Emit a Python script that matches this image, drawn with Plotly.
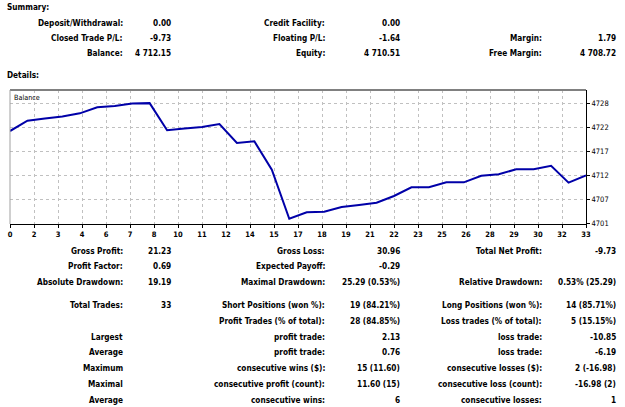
import plotly.graph_objects as go

# ---- data ----
trades = list(range(0, 34))
balance = [4721.88, 4724.13, 4724.62, 4725.05, 4725.75, 4727.09, 4727.35, 4727.90,
           4727.98, 4722.04, 4722.43, 4722.76, 4723.41, 4719.26, 4719.63, 4713.42,
           4702.69, 4704.10, 4704.23, 4705.26, 4705.70, 4706.20, 4707.67, 4709.57,
           4709.57, 4710.66, 4710.66, 4712.11, 4712.41, 4713.51, 4713.51, 4714.29,
           4710.58, 4712.15]
x_tick_labels = ["0", "2", "3", "4", "6", "7", "8", "10", "11", "12", "14", "15", "17",
                 "18", "19", "21", "22", "23", "25", "26", "28", "29", "30", "32", "33"]
y_tick_labels = ["4701", "4707", "4712", "4717", "4722", "4728"]

summary_rows = [
    ["Deposit/Withdrawal:", "0.00", "Credit Facility:", "0.00", "", ""],
    ["Closed Trade P/L:", "-9.73", "Floating P/L:", "-1.64", "Margin:", "1.79"],
    ["Balance:", "4 712.15", "Equity:", "4 710.51", "Free Margin:", "4 708.72"],
]
details_rows = [
    ["Gross Profit:", "21.23", "Gross Loss:", "30.96", "Total Net Profit:", "-9.73"],
    ["Profit Factor:", "0.69", "Expected Payoff:", "-0.29", "", ""],
    ["Absolute Drawdown:", "19.19", "Maximal Drawdown:", "25.29 (0.53%)", "Relative Drawdown:", "0.53% (25.29)"],
    ["Total Trades:", "33", "Short Positions (won %):", "19 (84.21%)", "Long Positions (won %):", "14 (85.71%)"],
    ["", "", "Profit Trades (% of total):", "28 (84.85%)", "Loss trades (% of total):", "5 (15.15%)"],
    ["Largest", "", "profit trade:", "2.13", "loss trade:", "-10.85"],
    ["Average", "", "profit trade:", "0.76", "loss trade:", "-6.19"],
    ["Maximum", "", "consecutive wins ($):", "15 (11.60)", "consecutive losses ($):", "2 (-16.98)"],
    ["Maximal", "", "consecutive profit (count):", "11.60 (15)", "consecutive loss (count):", "-16.98 (2)"],
    ["Average", "", "consecutive wins:", "6", "consecutive losses:", "1"],
]

# ---- layout geometry (pixels) ----
W, H = 625, 407
PL, PR, PT, PB = 8, 586, 90, 224
FONT = "DejaVu Sans Condensed, DejaVu Sans, Liberation Sans, sans-serif"
FS = 8.2

def xp(px):
    return (px - PL) / (PR - PL)

def yp(py):
    return (PB - py) / (PB - PT)

fig = go.Figure()
fig.add_trace(go.Scatter(x=trades, y=balance, mode="lines",
                         line=dict(color="#0000A8", width=2), hoverinfo="skip"))

n_int = len(x_tick_labels) - 1
x_tickvals = [i * (trades[-1] - trades[0]) / n_int for i in range(n_int + 1)]
y0, ystep = 4701.65, 5.25
y_tickvals = [y0 + i * ystep for i in range(len(y_tick_labels))]

annotations = []
def txt(px, py, s, anchor="right", bold=True, size=FS):
    if s == "":
        return
    annotations.append(dict(
        x=xp(px), y=yp(py), xref="paper", yref="paper", text=("<b>%s</b>" % s) if bold else s,
        showarrow=False, xanchor=anchor, yanchor="middle",
        font=dict(family=FONT, size=size, color="#000000")))

txt(3, 7, "Summary:", anchor="left")
txt(3, 75, "Details:", anchor="left")

col_right = [123, 172, 326, 401.5, 544, 618.5]
sum_y = [22.7, 38.3, 53.3]
for row, py in zip(summary_rows, sum_y):
    for s, px in zip(row, col_right):
        txt(px, py, s)

det_y = [250.7, 266.3, 282, 305.3, 321, 336.7, 352.3, 368, 384, 399.7]
for row, py in zip(details_rows, det_y):
    for s, px in zip(row, col_right):
        txt(px, py, s)

txt(10, 97.5, "Balance", anchor="left", bold=False, size=7.2)

shapes = [
    dict(type="line", xref="paper", yref="paper", x0=0, x1=1, y0=1, y1=1,
         line=dict(color="#808080", width=2)),
    dict(type="line", xref="paper", yref="paper", x0=0, x1=0, y0=0, y1=1,
         line=dict(color="#a0a0a0", width=1)),
]

fig.update_layout(
    width=W, height=H,
    margin=dict(l=PL, r=W - PR, t=PT, b=H - PB, pad=0),
    paper_bgcolor="white", plot_bgcolor="white",
    showlegend=False,
    annotations=annotations,
    shapes=shapes,
    xaxis=dict(range=[trades[0], trades[-1]], tickvals=x_tickvals, ticktext=x_tick_labels,
               showgrid=True, gridcolor="#c0c0c0", griddash="3px,3px", gridwidth=1,
               zeroline=False, showline=True, linecolor="#000000", linewidth=1,
               ticks="outside", ticklen=3, tickcolor="#000000",
               tickfont=dict(family=FONT, size=7.5, color="#000000", weight="bold"),
               fixedrange=True),
    yaxis=dict(range=[4701.55, 4730.85], side="right", tickvals=y_tickvals,
               ticktext=y_tick_labels,
               showgrid=True, gridcolor="#c0c0c0", griddash="3px,3px", gridwidth=1,
               zeroline=False, showline=True, linecolor="#000000", linewidth=1,
               ticks="outside", ticklen=3, tickcolor="#000000",
               tickfont=dict(family=FONT, size=7.5, color="#000000"),
               fixedrange=True),
)

fig.write_html("out.html")
